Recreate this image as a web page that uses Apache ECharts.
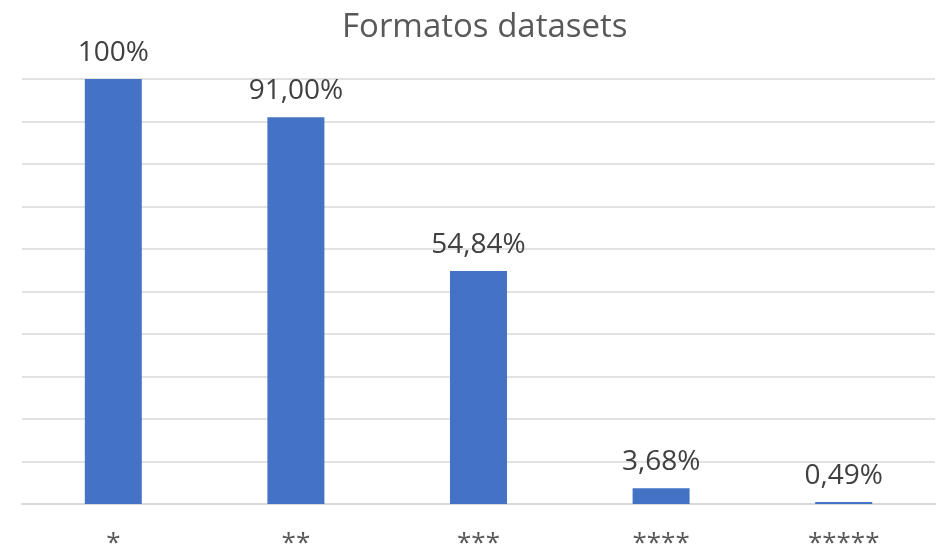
<!DOCTYPE html>
<html><head><meta charset="utf-8">
<script src="https://cdn.jsdelivr.net/npm/echarts@6/dist/echarts.min.js"></script>
<style>html,body{margin:0;padding:0;background:#fff}#c{width:942px;height:546px}</style>
</head><body><div id="c"></div>
<script>
const categories = ['*', '**', '***', '****', '*****'];
const values = [100, 91, 54.84, 3.68, 0.49];
const valueLabels = ['100%', '91,00%', '54,84%', '3,68%', '0,49%'];
const yTicks = [0, 10, 20, 30, 40, 50, 60, 70, 80, 90, 100];

const chart = echarts.init(document.getElementById('c'));
chart.setOption({
  animation: false,
  title: {
    text: 'Formatos datasets', left: 337, top: 6,
    textStyle: { fontFamily: 'Open Sans', fontSize: 33, fontWeight: 'normal', color: '#595959' }
  },
  grid: { left: 22, right: 7, top: 79, bottom: 42, containLabel: false, outerBoundsMode: 'none' },
  xAxis: {
    type: 'category', data: categories,
    axisLine: { lineStyle: { color: '#d9d9d9', width: 2 } },
    axisTick: { show: false },
    axisLabel: { fontFamily: 'Open Sans', fontSize: 26, color: '#595959', margin: 27 }
  },
  yAxis: {
    type: 'value', min: yTicks[0], max: yTicks[yTicks.length - 1], interval: 10,
    axisLabel: { show: false }, axisLine: { show: false }, axisTick: { show: false },
    splitLine: { lineStyle: { color: '#d9d9d9', width: 1.5 } }
  },
  series: [{
    type: 'bar', data: values, barWidth: 57,
    itemStyle: { color: '#4472c4' },
    label: {
      show: true, position: 'top', distance: 12,
      fontFamily: 'Open Sans', fontSize: 28, color: '#404040',
      formatter: p => valueLabels[p.dataIndex]
    }
  }]
});
</script></body></html>
